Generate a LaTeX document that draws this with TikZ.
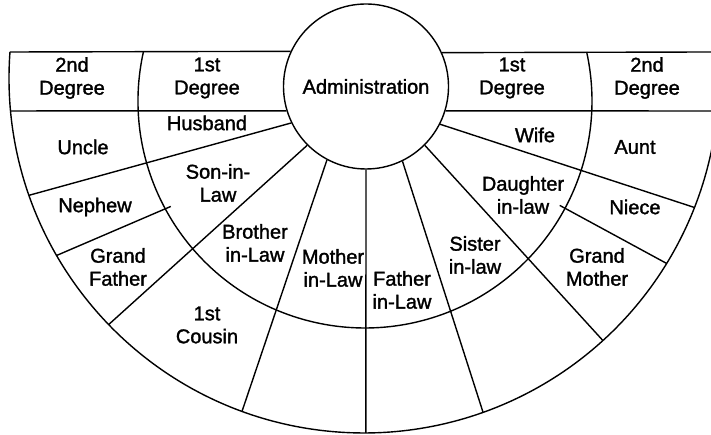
\documentclass[tikz,border=0pt]{standalone}
\usepackage{fontspec}
\setmainfont{Liberation Sans}[FakeBold=1.5]
\usetikzlibrary{calc}
\tikzset{
  hub/.style  = {draw, circle, line width=1.4pt,
                 minimum size=165pt, inner sep=0pt,
                 font=\fontsize{20}{23}\selectfont},
  lbl/.style  = {align=center, inner sep=0pt,
                 font=\fontsize{20}{23}\selectfont},
  rim/.style  = {line width=1.4pt}
}
\newcommand{\rimR}{355}   % outer rim radius
\newcommand{\midR}{227}   % 1st/2nd degree ring radius

\begin{document}
\begin{tikzpicture}[x=1pt, y=1pt, rim]
  \useasboundingbox (0,0) rectangle (711,435);
  \clip (0,0) rectangle (711,435);

  %%──────────────────────────────────────────────────────────────────────────
  %%  CENTRES AND HUB
  %%──────────────────────────────────────────────────────────────────────────
  \coordinate (O) at (364,357);   %% outer rim centre
  \coordinate (M) at (365,334);   %% middle ring centre
  \node[hub] (admin) at (366,348.5) {Administration};

  %%──────────────────────────────────────────────────────────────────────────
  %%  RIM, RING AND HEADER BAND
  %%──────────────────────────────────────────────────────────────────────────
  \coordinate (rimTL) at ($(O)+(175.8:\rimR)$);
  \coordinate (rimBL) at ($(O)+(185.33:\rimR)$);
  \coordinate (midT)  at ($(M)+(167.53:\midR)$);
  \coordinate (edgeT) at (711,383);
  \coordinate (edgeB) at (711,324);

  \draw (rimTL) arc[start angle=175.8,  end angle=364.2,  radius=\rimR];
  \draw (midT)  arc[start angle=167.53, end angle=372.47, radius=\midR];

  \draw (rimTL)      -- (admin.155.3);
  \draw (admin.24.7) -- (edgeT);
  \draw (rimBL)      -- (admin.197.3);
  \draw (admin.-17.3)-- (edgeB);

  %%──────────────────────────────────────────────────────────────────────────
  %%  SPOKES  (hub angle / rim angle)
  %%──────────────────────────────────────────────────────────────────────────
  \foreach \a/\b in {206.6/199.3, 225.2/224.0, 242.7/249.9, 270/270.3,
                     296.1/289.6, 315.2/312.3, 333.1/338.6}
    \draw (admin.\a) -- ($(O)+(\b:\rimR)$);

  %% short spokes in the 2nd degree band
  \foreach \a/\b in {208.5/210.0, 331.8/328.5}
    \draw ($(M)+(\a:221)$) -- ($(O)+(\b:\rimR)$);

  %%──────────────────────────────────────────────────────────────────────────
  %%  LABELS
  %%──────────────────────────────────────────────────────────────────────────
  \node[lbl] (degTwoL) at (72,357)  {2nd\\Degree};
  \node[lbl] (degOneL) at (207,357) {1st\\Degree};
  \node[lbl] (degOneR) at (512,357) {1st\\Degree};
  \node[lbl] (degTwoR) at (647,357) {2nd\\Degree};

  \node[lbl] (husband)  at (207,312) {Husband};
  \node[lbl] (uncle)    at (83,288)  {Uncle};
  \node[lbl] (sonlaw)   at (218,252) {Son-in-\\Law};
  \node[lbl] (nephew)   at (95,228)  {Nephew};
  \node[lbl] (brother)  at (255,192) {Brother\\in-Law};
  \node[lbl] (gfather)  at (118,168) {Grand\\Father};
  \node[lbl] (mother)   at (333,167) {Mother\\in-Law};
  \node[lbl] (cousin)   at (207,110) {1st\\Cousin};
  \node[lbl] (father)   at (402,145) {Father\\in-Law};
  \node[lbl] (sister)   at (475,180) {Sister\\in-law};
  \node[lbl] (gmother)  at (597,168) {Grand\\Mother};
  \node[lbl] (wife)     at (535,300) {Wife};
  \node[lbl] (aunt)     at (635,288) {Aunt};
  \node[lbl] (daughter) at (523,240) {Daughter\\in-law};
  \node[lbl] (niece)    at (635,228) {Niece};

\end{tikzpicture}
\end{document}
